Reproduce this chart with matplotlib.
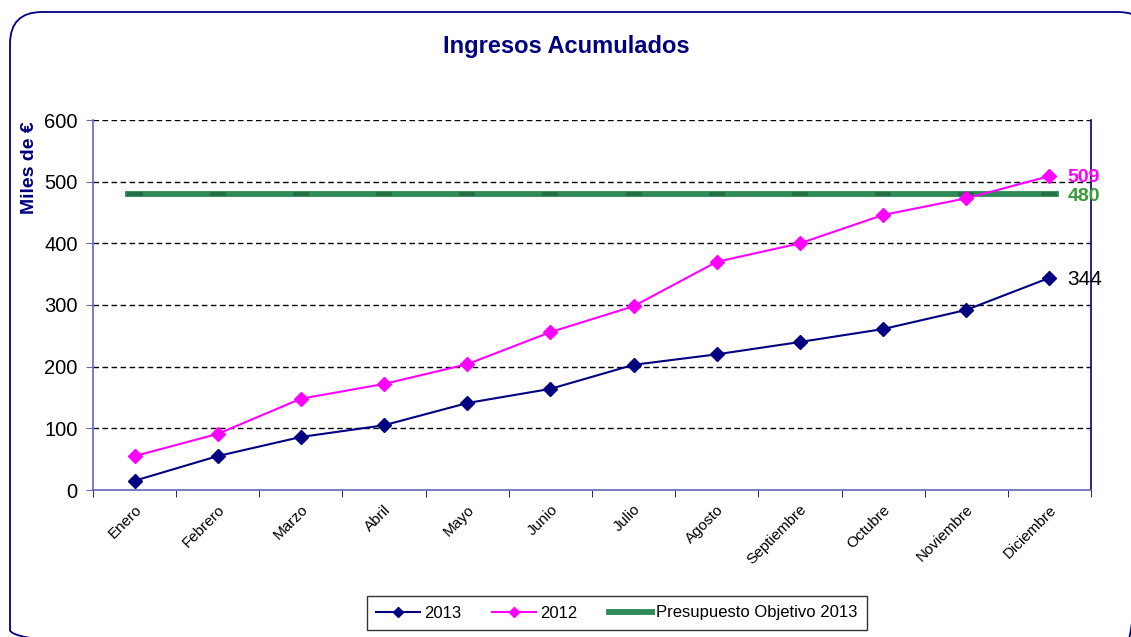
import matplotlib
matplotlib.use("Agg")
import matplotlib.pyplot as plt
from matplotlib.patches import FancyBboxPatch

months = ["Enero", "Febrero", "Marzo", "Abril", "Mayo", "Junio", "Julio",
          "Agosto", "Septiembre", "Octubre", "Noviembre", "Diciembre"]
s2013 = [15, 55, 86, 105, 141, 164, 203, 220, 240, 261, 292, 344]
s2012 = [55, 91, 148, 172, 204, 256, 298, 370, 400, 446, 473, 509]
budget = [480] * 12
yticks = [0, 100, 200, 300, 400, 500, 600]

plt.rcParams['font.family'] = ['Liberation Sans', 'DejaVu Sans']
W, H = 1131, 637
fig = plt.figure(figsize=(W / 100, H / 100), dpi=100)

# rounded border drawn in pixel space
bg = fig.add_axes([0, 0, 1, 1])
bg.set_xlim(0, W)
bg.set_ylim(H, 0)
bg.axis("off")
border = FancyBboxPatch((10, 12), 1140, 650,
                        boxstyle="round,pad=0,rounding_size=32",
                        fill=False, edgecolor="#000080", linewidth=1.3)
bg.add_patch(border)

navy = "#000080"
ax = fig.add_axes([93 / W, 1 - 490 / H, (1091 - 93) / W, (490 - 120) / H])
x = list(range(len(months)))
ax.plot([-0.08] + x[1:-1] + [x[-1] + 0.08], budget, color="#2e8b57", lw=4.2,
        label="Presupuesto Objetivo 2013", zorder=3)
ax.plot(x, budget, color="#2e8b57", lw=0, marker="_", ms=11, mew=3, mec="#237046", zorder=3)
ax.plot(x, s2012, color="#ff00ff", lw=1.5, marker="D", ms=7, label="2012", zorder=4)
ax.plot(x, s2013, color=navy, lw=1.5, marker="D", ms=7, label="2013", zorder=5)

ax.set_xlim(-0.5, len(months) - 0.5)
ax.set_ylim(0, 600)
ax.set_yticks(yticks)
ax.set_yticklabels([str(v) for v in yticks], fontsize=14.5)
for v in yticks[1:]:
    ax.axhline(v, color="black", lw=1, ls=(0, (4, 2.5)), zorder=1)

ax.set_xticks(x)
ax.set_xticklabels(months, rotation=45, ha="right", rotation_mode="anchor", fontsize=11)
ax.set_xticks([i - 0.5 for i in range(len(months) + 1)], minor=True)
ax.tick_params(axis="x", which="major", length=0, pad=9)
ax.tick_params(axis="x", which="minor", length=5, color=navy, direction="out")
ax.tick_params(axis="y", length=5, color="#6666bb", direction="out", pad=6)

ax.spines["top"].set_visible(False)
ax.spines["left"].set_color("#6666bb")
ax.spines["bottom"].set_color("#6666bb")
ax.spines["right"].set_color(navy)
for s in ax.spines.values():
    s.set_linewidth(1.2)

fig.text(30 / W, 1 - 168 / H, "Miles de €", rotation=90, ha="center", va="center",
         fontsize=14, fontweight="bold", color=navy)
fig.text(566 / W, 1 - 46 / H, "Ingresos Acumulados", ha="center", va="center",
         fontsize=17, fontweight="bold", color=navy)

ax.annotate(str(s2012[-1]), (x[-1], s2012[-1]), xytext=(13, -1), textcoords="offset points",
            va="center", ha="left", fontsize=14, fontweight="bold", color="#ff00ff")
ax.annotate(str(budget[-1]), (x[-1], budget[-1]), xytext=(13, -2), textcoords="offset points",
            va="center", ha="left", fontsize=14, fontweight="bold", color="#3a9a3a")
ax.annotate(str(s2013[-1]), (x[-1], s2013[-1]), xytext=(13, -1), textcoords="offset points",
            va="center", ha="left", fontsize=15, color="black")

handles, labels = ax.get_legend_handles_labels()
order = [2, 1, 0]
leg = fig.legend([handles[i] for i in order], [labels[i] for i in order],
                 loc="center", bbox_to_anchor=(617 / W, 1 - 613 / H), ncol=3,
                 fontsize=12, frameon=True, fancybox=False, edgecolor="black",
                 handlelength=2.6, handletextpad=0.25, columnspacing=1.9,
                 borderpad=0.55, borderaxespad=0)
leg.get_frame().set_linewidth(1.0)
for h in leg.legend_handles[:2]:
    h.set_markersize(5)

fig.savefig("out.png", dpi=100)
